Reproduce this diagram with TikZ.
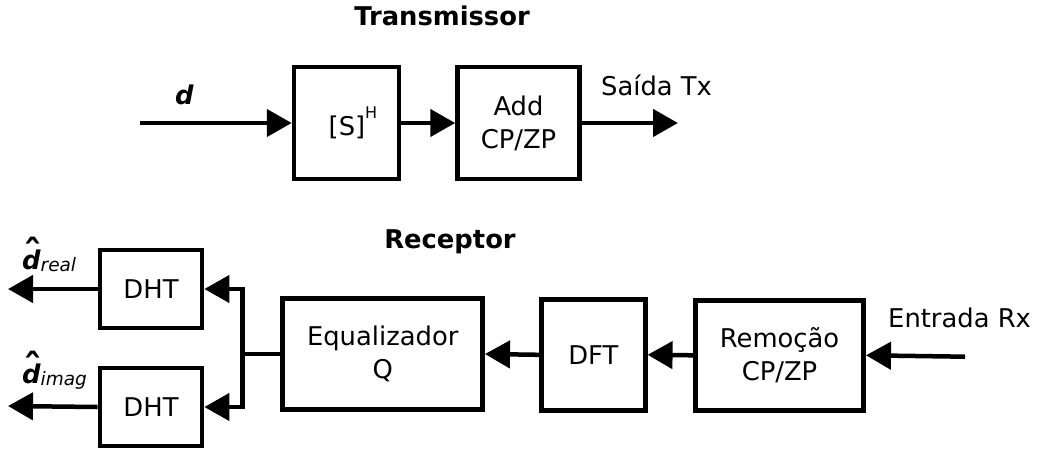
\documentclass[tikz,border=0pt]{standalone}
\usepackage{fontspec}
\setmainfont{DejaVu Sans}[
  BoldFont={DejaVu Sans Bold},
  ItalicFont={DejaVu Sans Oblique},
  BoldItalicFont={DejaVu Sans Bold Oblique}]
\usetikzlibrary{arrows.meta}
\newcommand\mainsize{\fontsize{25.8pt}{33pt}\selectfont}
\newcommand\subsize{\fontsize{18.5pt}{18.5pt}\selectfont}
% bold oblique d with a circumflex set above its stem
\newcommand\dhat{\makebox[0pt][l]{\hspace{1.5pt}\raisebox{2pt}{\fontsize{38pt}{38pt}\selectfont\bfseries\upshape ˆ}}{\bfseries\itshape d}}
\begin{document}
\begin{tikzpicture}[x=1pt,y=-1pt,
  block/.style={draw, line width=4.5pt, inner sep=0pt, align=center, font=\mainsize},
  flow/.style={line width=4.5pt, -{Triangle[length=25pt,width=27pt]}},
  wire/.style={line width=4.5pt},
  lbl/.style={inner sep=0pt, font=\mainsize},
  title/.style={inner sep=0pt, anchor=base, font=\mainsize\bfseries}]
\useasboundingbox (0,0) rectangle (1038,450);

% ---------------- transmitter ----------------
\node[title] (ttx) at (442,25) {Transmissor};
\node[block, minimum width=105pt, minimum height=112pt] (sh) at (346.5,123)
  {\hspace*{13pt}[S]\raisebox{17pt}{\fontsize{16pt}{16pt}\selectfont H}};
\node[block, minimum width=122pt, minimum height=112pt] (add) at (518.5,123)
  {Add\\CP/ZP};
\coordinate (din) at (140,123);
\coordinate (txout) at (678,123);
\draw[flow] (din) -- (sh.west);
\draw[flow] (sh.east) -- (add.west);
\draw[flow] (add.east) -- (txout);
\node[lbl, anchor=base west, font=\mainsize\bfseries\itshape] (dlab) at (175,104) {d};
\node[lbl, anchor=base west] (saida) at (601,95) {Saída Tx};

% ---------------- receiver ----------------
\node[title] (trx) at (450,248) {Receptor};
\node[block, minimum width=102.3pt, minimum height=77.7pt] (dhtr) at (151,289) {DHT};
\node[block, minimum width=102.3pt, minimum height=77.7pt] (dhti) at (151,407) {DHT};
\node[block, minimum width=200pt, minimum height=110.6pt] (eq) at (382.7,354)
  {Equalizador\\Q};
\node[block, minimum width=104pt, minimum height=111pt] (dft) at (593.3,354.8) {DFT};
\node[block, minimum width=168.4pt, minimum height=110pt] (rem) at (779.5,355.3)
  {Remoção\\CP/ZP};
\node[lbl, anchor=base west] (entrada) at (888,327) {Entrada Rx};

\coordinate (rxin) at (965,356.7);
\draw[flow] (rxin) -- (rem.east);
\draw[flow] (rem.west) -- (dft.east);
\draw[flow] (dft.west) -- (eq.east);

% split towards the two DHT branches
\coordinate (split) at (242.3,354);
\draw[wire] (eq.west) -- (split);
\draw[flow] (split) |- (dhtr.east);
\draw[flow] (split) |- (dhti.east);

\coordinate (outr) at (8,289);
\coordinate (outi) at (8,406);
\draw[flow] (dhtr.west) -- (outr);
\draw[flow] (dhti.west) -- (outi);

\node[lbl, anchor=base west] (dreal) at (22,269)
  {\dhat\raisebox{-2.5pt}{\subsize\itshape real}};
\node[lbl, anchor=base west] (dimag) at (22,383)
  {\dhat\raisebox{-2pt}{\subsize\itshape imag}};
\end{tikzpicture}
\end{document}
